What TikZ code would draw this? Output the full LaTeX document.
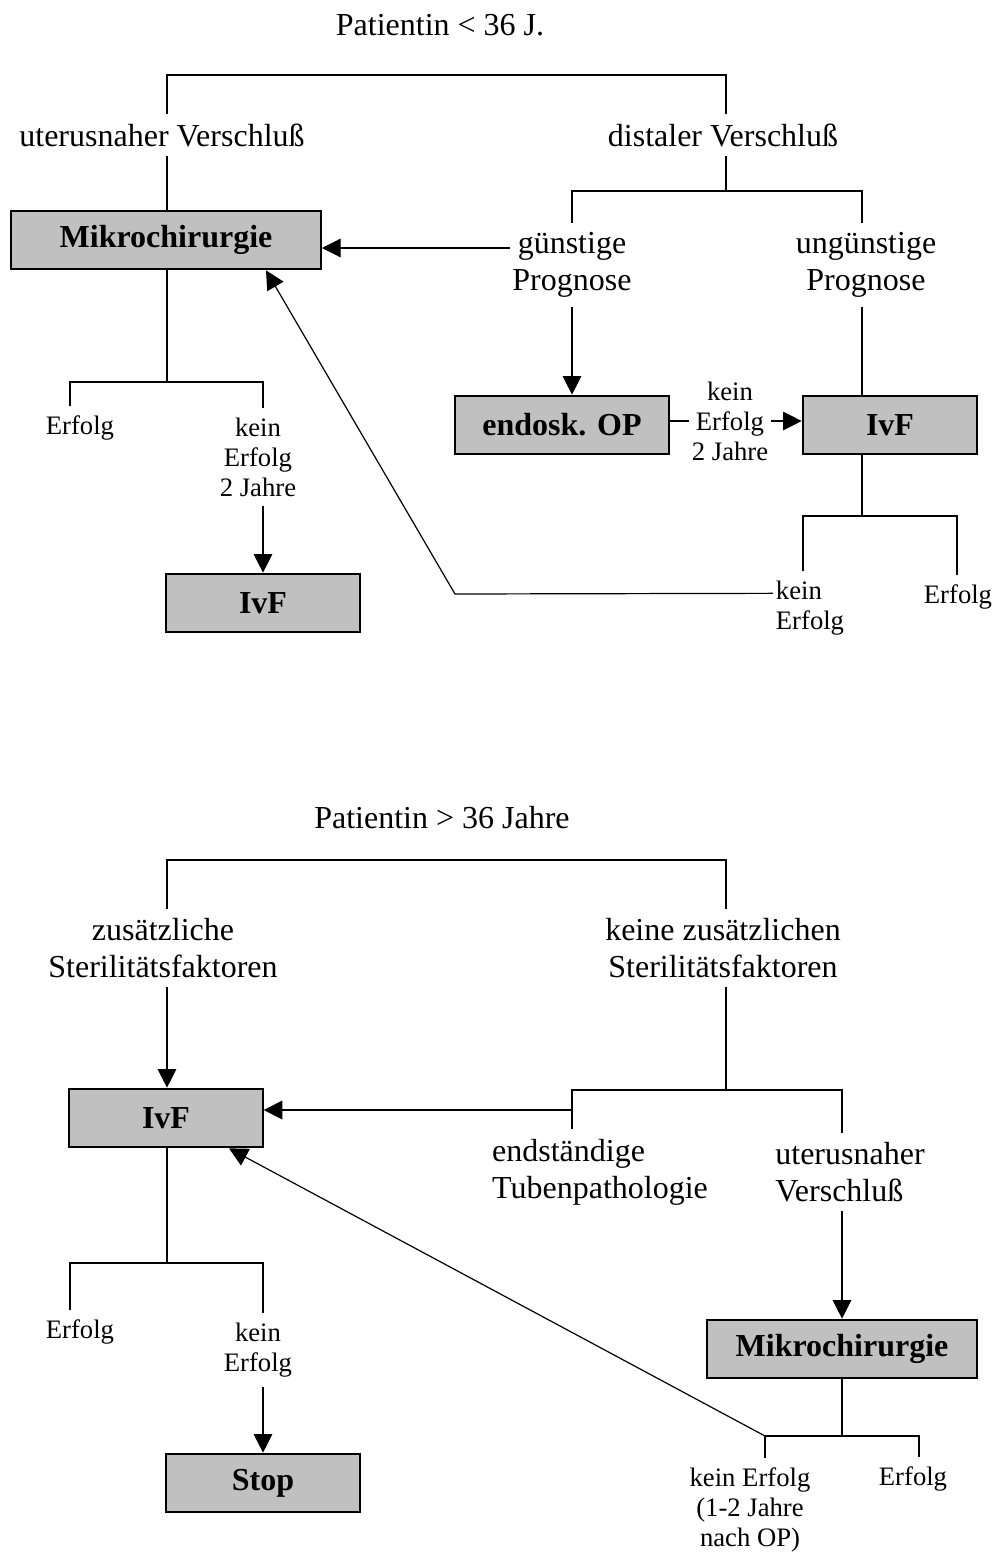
\documentclass[tikz,border=0pt]{standalone}
\usepackage{fontspec}
\setmainfont{Liberation Serif}
\usetikzlibrary{arrows.meta}
\definecolor{boxgray}{RGB}{192,192,192}
\newcommand{\mainsize}{\fontsize{24}{27.75}\selectfont}
\newcommand{\labsize}{\fontsize{20}{22.5}\selectfont}
\tikzset{
  box/.style={draw, line width=1.5pt, fill=boxgray, minimum height=44pt, inner sep=2pt, font=\mainsize\bfseries},
  lbl/.style={font=\mainsize, align=center, inner xsep=2pt, inner ysep=7pt},
  sml/.style={font=\labsize, align=center, inner xsep=2pt, inner ysep=7pt},
  ln/.style={line width=0.9pt},
  arr/.style={line width=0.9pt, -{Triangle[length=14pt,width=14pt]}}
}

\begin{document}
\begin{tikzpicture}[x=0.75pt, y=-0.75pt]
  \useasboundingbox (0,0) rectangle (995,1556);

  % Patientin < 36
  \node[lbl] (title1) at (440,25) {Patientin < 36 J.};
  \coordinate (t1L) at (167,75);
  \coordinate (t1R) at (726,75);
  \node[lbl] (utv1) at (162,135) {uterusnaher Verschluß};
  \node[lbl] (dv1) at (723,135) {distaler Verschluß};
  \node[box, minimum width=232.5pt] (mikro1) at (166,240) {Mikrochirurgie};
  \coordinate (d1) at (726,191);
  \coordinate (d1L) at (572,191);
  \coordinate (d1R) at (862,191);
  \node[lbl] (gp) at (572,265) {günstige\\Prognose};
  \node[lbl] (ugp) at (866,265) {ungünstige\\Prognose};
  \node[box, minimum width=160pt] (endo) at (562,425) {endosk. OP};
  \node[box, minimum width=131pt] (ivf1) at (890,425) {IvF};
  \node[sml, inner ysep=2pt] (ke2) at (730,421) {kein\\Erfolg\\2 Jahre};

  \draw[ln] (utv1.north -| t1L) -- (t1L) -- (t1R) -- (dv1.north -| t1R);
  \draw[ln] (utv1.south -| t1L) -- (mikro1.north -| t1L);
  \draw[ln] (dv1.south -| t1R) -- (d1);
  \draw[ln] (gp.north -| d1L) -- (d1L) -- (d1R) -- (ugp.north -| d1R);
  \coordinate (m1in) at ([yshift=-6pt]mikro1.east);
  \draw[arr] (gp.west |- m1in) -- (m1in);
  \draw[arr] (gp.south -| d1L) -- (endo.north -| d1L);
  \draw[ln] (ugp.south -| d1R) -- (ivf1.north -| d1R);
  \draw[ln] (endo.east |- ke2) -- (ke2.west);
  \draw[arr] (ke2.east) -- (ivf1.west |- ke2.east);

  % Mikrochirurgie -> Erfolg / kein Erfolg
  \coordinate (b1) at (167,382);
  \coordinate (b1L) at (70,382);
  \coordinate (b1R) at (263,382);
  \node[sml] (e1) at (80,428) {Erfolg};
  \node[sml] (ke1) at (258,457) {kein\\Erfolg\\2 Jahre};
  \node[box, minimum width=145pt] (ivf2) at (263,603) {IvF};
  \draw[ln] (mikro1.south -| b1) -- (b1);
  \draw[ln] (e1.north -| b1L) -- (b1L) -- (b1R) -- (ke1.north -| b1R);
  \draw[arr] (ke1.south -| b1R) -- (ivf2.north -| b1R);

  % IvF -> Erfolg / kein Erfolg
  \coordinate (b2) at (862,516);
  \coordinate (b2L) at (803,516);
  \coordinate (b2R) at (957,516);
  \node[sml, align=left] (ke3) at (810,608) {kein\\Erfolg};
  \node[sml] (e3) at (958,597) {Erfolg};
  \draw[ln] (ivf1.south -| b2) -- (b2);
  \draw[ln] (ke3.north -| b2L) -- (b2L) -- (b2R) -- (e3.north -| b2R);
  \coordinate (r1) at ([yshift=11pt]ke3.west);
  \coordinate (k1) at (455,594);
  \draw[arr] (r1) -- (k1) -- ([xshift=-42pt]mikro1.south east);

  % Patientin > 36
  \node[lbl] (title2) at (442,818) {Patientin > 36 Jahre};
  \coordinate (t2L) at (167,860);
  \coordinate (t2R) at (726,860);
  \node[lbl] (zs) at (163,948) {zusätzliche\\Sterilitätsfaktoren};
  \node[lbl] (kz) at (723,948) {keine zusätzlichen\\Sterilitätsfaktoren};
  \node[box, minimum width=145pt] (ivf3) at (166,1118) {IvF};
  \coordinate (d2) at (726,1090);
  \coordinate (d2L) at (572,1090);
  \coordinate (d2R) at (842,1090);
  \node[lbl, align=left] (es) at (600,1172) {endständige\\Tubenpathologie};
  \node[lbl, align=left] (uv2) at (850,1172) {uterusnaher\\Verschluß};
  \node[box, minimum width=203pt] (mikro2) at (842,1349) {Mikrochirurgie};

  \draw[ln] (zs.north -| t2L) -- (t2L) -- (t2R) -- (kz.north -| t2R);
  \draw[arr] (zs.south -| t2L) -- (ivf3.north -| t2L);
  \draw[ln] (kz.south -| t2R) -- (d2);
  \draw[ln] (es.north -| d2L) -- (d2L) -- (d2R) -- (uv2.north -| d2R);
  \coordinate (i3in) at ([yshift=6pt]ivf3.east);
  \draw[arr] (d2L |- i3in) -- (i3in);
  \draw[arr] (uv2.south -| d2R) -- (mikro2.north -| d2R);

  % Mikrochirurgie -> kein Erfolg / Erfolg
  \coordinate (b3) at (842,1436);
  \coordinate (b3L) at (765,1436);
  \coordinate (b3R) at (919,1436);
  \node[sml] (ke4) at (750,1510) {kein Erfolg\\(1-2 Jahre\\nach OP)};
  \node[sml] (e4) at (913,1479) {Erfolg};
  \draw[ln] (mikro2.south -| b3) -- (b3);
  \draw[ln] (ke4.north -| b3L) -- (b3L) -- (b3R) -- (e4.north -| b3R);
  \draw[arr] (b3L) -- ([xshift=-26pt]ivf3.south east);

  % IvF -> Erfolg / kein Erfolg
  \coordinate (b4) at (167,1263);
  \coordinate (b4L) at (70,1263);
  \coordinate (b4R) at (263,1263);
  \node[sml] (e5) at (80,1332) {Erfolg};
  \node[sml] (ke5) at (258,1350) {kein\\Erfolg};
  \node[box, minimum width=145pt] (stop) at (263,1483) {Stop};
  \draw[ln] (ivf3.south -| b4) -- (b4);
  \draw[ln] (e5.north -| b4L) -- (b4L) -- (b4R) -- (ke5.north -| b4R);
  \draw[arr] (ke5.south -| b4R) -- (stop.north -| b4R);
\end{tikzpicture}
\end{document}
